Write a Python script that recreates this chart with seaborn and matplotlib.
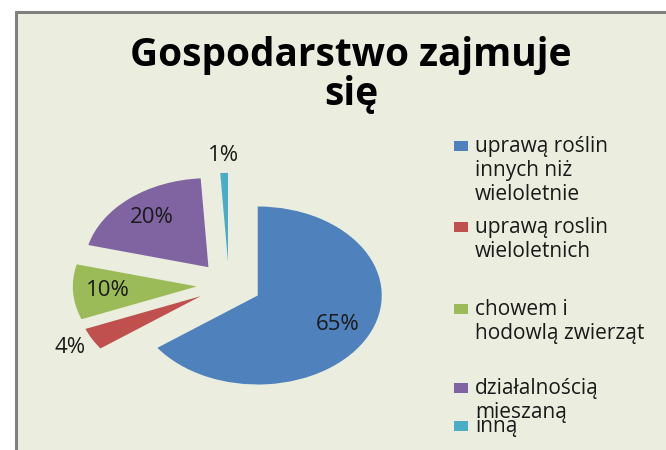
import matplotlib.pyplot as plt
import matplotlib.patches as mpatches
import seaborn as sns

# Data
categories = ['uprawą roślin\ninnych niż\nwieloletnie',
              'uprawą roslin\nwieloletnich',
              'chowem i\nhodowlą zwierząt',
              'działalnością\nmieszaną',
              'inną']
shares = [65, 4, 10, 20, 1]
colors = ['#4F81BD', '#C0504D', '#9BBB59', '#8064A2', '#4BACC6']
title = 'Gospodarstwo zajmuje\nsię'

sns.set_theme(style='white')
plt.rcParams['font.family'] = ['Open Sans', 'DejaVu Sans']

W, H = 666, 450
fig = plt.figure(figsize=(W / 100, H / 100), dpi=100)
fig.patch.set_facecolor('white')

# chart area background with grey border on left/top
bg = '#EBEEDF'
fig.patches.append(mpatches.Rectangle((16 / W, 0), 1, 1 - 12 / H, transform=fig.transFigure,
                                      facecolor=bg, edgecolor='none', zorder=-5))
fig.add_artist(plt.Line2D([16 / W, 16 / W], [0, 1 - 12 / H], transform=fig.transFigure,
                          color='#7F7F7F', lw=2.2, zorder=-4))
fig.add_artist(plt.Line2D([16 / W, 1], [1 - 12 / H, 1 - 12 / H], transform=fig.transFigure,
                          color='#7F7F7F', lw=2.2, zorder=-4))

# pie axes: 1 unit = 124 px horizontally, 89 px vertically, centre at (229, 285)
ax = fig.add_axes([(229 - 186) / W, (H - 285 - 133.5) / H, 372 / W, 267 / H])
ax.set_facecolor('none')
ax.set_zorder(2)

small = [f'{v}%' if v < 5 else '' for v in shares]
wedges, texts, autotexts = ax.pie(
    shares, colors=colors, startangle=90, counterclock=False,
    explode=[0.26] * len(shares), labels=small, labeldistance=1.2,
    autopct=lambda p: f'{p:.0f}%' if p >= 5 else '', pctdistance=0.72,
    textprops={'fontsize': 16, 'color': '#1a1a1a'},
    wedgeprops={'linewidth': 0})
for t in texts:
    t.set_ha('center')
    t.set_va('center')
ax.set_aspect('auto')
ax.set_xlim(-1.5, 1.5)
ax.set_ylim(-1.5, 1.5)
ax.axis('off')

fig.text(351 / W, 1 - 36 / H, title, ha='center', va='top', fontsize=28,
         fontweight='bold', color='black', linespacing=1.0)

# legend (Excel-like, cramped)
leg_y = [146, 227, 309, 388, 426]
for lab, c, y in zip(categories, colors, leg_y):
    fig.patches.append(mpatches.Rectangle((454 / W, 1 - (y + 5) / H), 14 / W, 10 / H,
                                          transform=fig.transFigure, facecolor=c,
                                          edgecolor='none'))
    fig.text(475 / W, 1 - (y - 10) / H, lab, ha='left', va='top', fontsize=15,
             color='#1a1a1a', linespacing=1.18)

fig.savefig('out.png', dpi=100, facecolor='white')
